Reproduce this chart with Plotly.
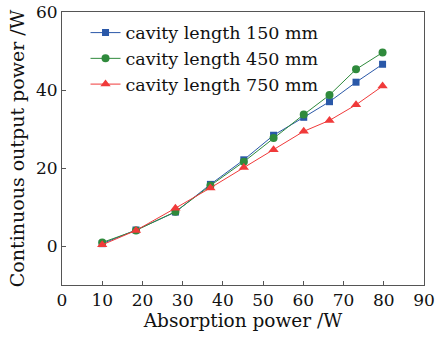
import plotly.graph_objects as go

absorption = [10.0, 18.4, 28.2, 36.9, 45.2, 52.6, 60.1, 66.5, 73.1, 79.7]
p150 = [0.6, 4.1, 8.7, 15.8, 22.1, 28.4, 33.0, 37.0, 42.0, 46.6]
p450 = [0.9, 4.0, 8.8, 15.5, 21.6, 27.7, 33.7, 38.7, 45.3, 49.6]
p750 = [0.3, 4.0, 9.7, 14.9, 20.1, 24.7, 29.4, 32.2, 36.2, 41.0]
names = ["cavity length 150 mm", "cavity length 450 mm", "cavity length 750 mm"]
x_ticks = [0, 10, 20, 30, 40, 50, 60, 70, 80, 90]
y_ticks = [0, 20, 40, 60]

FONT = "DejaVu Serif"
fig = go.Figure()
styles = [("#2a58a8", "square", 7), ("#2f8a3c", "circle", 8), ("#f03a3a", "triangle-up", 9)]
for ys, nm, (c, sym, sz) in zip([p150, p450, p750], names, styles):
    fig.add_trace(go.Scatter(x=absorption, y=ys, name=nm, mode="lines+markers",
                             line=dict(color=c, width=1),
                             marker=dict(color=c, symbol=sym, size=sz)))

axis_common = dict(showgrid=False, zeroline=False, showline=True, linecolor="#555",
                   linewidth=1, mirror=True, ticks="inside", ticklen=4, tickcolor="#555",
                   automargin=False,
                   tickfont=dict(family=FONT, size=17, color="#111"))
fig.update_xaxes(range=[0, 90], tickvals=x_ticks,
                 title=dict(text="Absorption power /W", font=dict(family=FONT, size=18.5, color="#111"), standoff=4),
                 **axis_common)
fig.update_yaxes(range=[-10, 60], tickvals=y_ticks,
                 title=dict(text="Continuous output power /W", font=dict(family=FONT, size=19, color="#111"), standoff=6),
                 **axis_common)
fig.update_layout(width=435, height=338, margin=dict(l=62, r=11, t=12, b=53),
                  plot_bgcolor="white", paper_bgcolor="white",
                  legend=dict(x=0.065, y=0.99, xanchor="left", yanchor="top",
                              font=dict(family=FONT, size=17.5, color="#111"),
                              bgcolor="rgba(0,0,0,0)", tracegroupgap=0))
fig.write_html("out.html", config={"displayModeBar": False},
               post_script="document.body.style.margin='0';")
